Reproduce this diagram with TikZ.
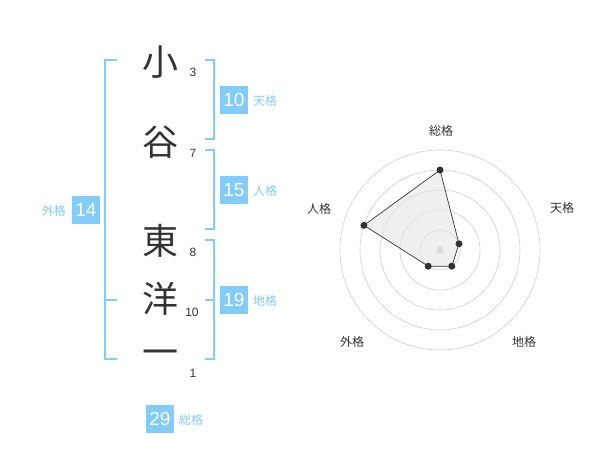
\documentclass[tikz,border=0pt]{standalone}
\usepackage{fontspec}
\setmainfont{Liberation Sans}
\newfontfamily\jp{Noto Sans CJK JP}
\definecolor{sky}{RGB}{130,204,250}
\definecolor{ink}{RGB}{51,51,51}
\begin{document}
\begin{tikzpicture}[x=1pt,y=-1pt,
 kanji/.style={font=\jp\fontsize{36}{36}\selectfont, text=ink, inner sep=0},
 strokes/.style={font=\fontsize{12}{12}\selectfont, text=ink, inner sep=0},
 valbox/.style={fill=sky, text=white, minimum width=28pt, minimum height=28pt, inner sep=0, font=\fontsize{19}{19}\selectfont},
 vallabel/.style={text=sky, font=\jp\fontsize{12}{12}\selectfont, inner sep=0},
 brk/.style={draw=sky, line width=2pt},
 ring/.style={draw=black!19, line width=0.6pt},
 axislabel/.style={font=\jp\fontsize{12}{12}\selectfont, text=ink, inner sep=0},
 dot/.style={circle, fill=ink, inner sep=0, minimum size=7pt}]
\fill[white] (0,0) rectangle (600,470);
% characters
\node[kanji] (c1) at (160,62) {小};
\node[kanji] (c2) at (160,142) {谷};
\node[kanji] (c3) at (160,241) {東};
\node[kanji] (c4) at (160,299) {洋};
\node[kanji] (c5) at (160,358) {一};
% stroke counts
\node[strokes] (s1) at (193,72) {3};
\node[strokes] (s2) at (193,153) {7};
\node[strokes] (s3) at (193,252) {8};
\node[strokes] (s4) at (192,312) {10};
\node[strokes] (s5) at (193,373) {1};
% brackets
\draw[brk] (117,60) -- (105,60) -- (105,359) -- (117,359);
\draw[brk] (105,300) -- (117,300);
\draw[brk] (205,60) -- (214,60) -- (214,139) -- (205,139);
\draw[brk] (205,150) -- (214,150) -- (214,229) -- (205,229);
\draw[brk] (205,240) -- (214,240) -- (214,359) -- (205,359);
\draw[brk] (205,300) -- (214,300);
% values
\node[valbox] (ten) at (234,100) {10};
\node[vallabel, anchor=west] (tenl) at (253,101) {天格};
\node[valbox] (jin) at (234,190) {15};
\node[vallabel, anchor=west] (jinl) at (253,191) {人格};
\node[valbox] (chi) at (234,300) {19};
\node[vallabel, anchor=west] (chil) at (253,301) {地格};
\node[valbox] (gai) at (86,210) {14};
\node[vallabel, anchor=east] (gail) at (66,211) {外格};
\node[valbox] (sou) at (160,419) {29};
\node[vallabel, anchor=west] (soul) at (179,420) {総格};
% radar
\coordinate (rc) at (440,250);
\foreach \r in {20,40,60,80,100} \draw[ring] (rc) circle[radius=\r];
\fill[black!22] (rc) circle[radius=3.5];
\coordinate (p1) at (440,170);
\coordinate (p2) at (459.0,243.8);
\coordinate (p3) at (451.8,266.2);
\coordinate (p4) at (428.2,266.2);
\coordinate (p5) at (363.9,225.3);
\draw[fill=black!10, fill opacity=0.6, draw=ink, line width=0.7pt] (p1) -- (p2) -- (p3) -- (p4) -- (p5) -- cycle;
\foreach \p in {p1,p2,p3,p4,p5} \node[dot] at (\p) {};
\node[axislabel] (a1) at (441,131) {総格};
\node[axislabel] (a2) at (562,208) {天格};
\node[axislabel] (a3) at (524,342) {地格};
\node[axislabel] (a4) at (352,342) {外格};
\node[axislabel] (a5) at (319,209) {人格};
\end{tikzpicture}
\end{document}
